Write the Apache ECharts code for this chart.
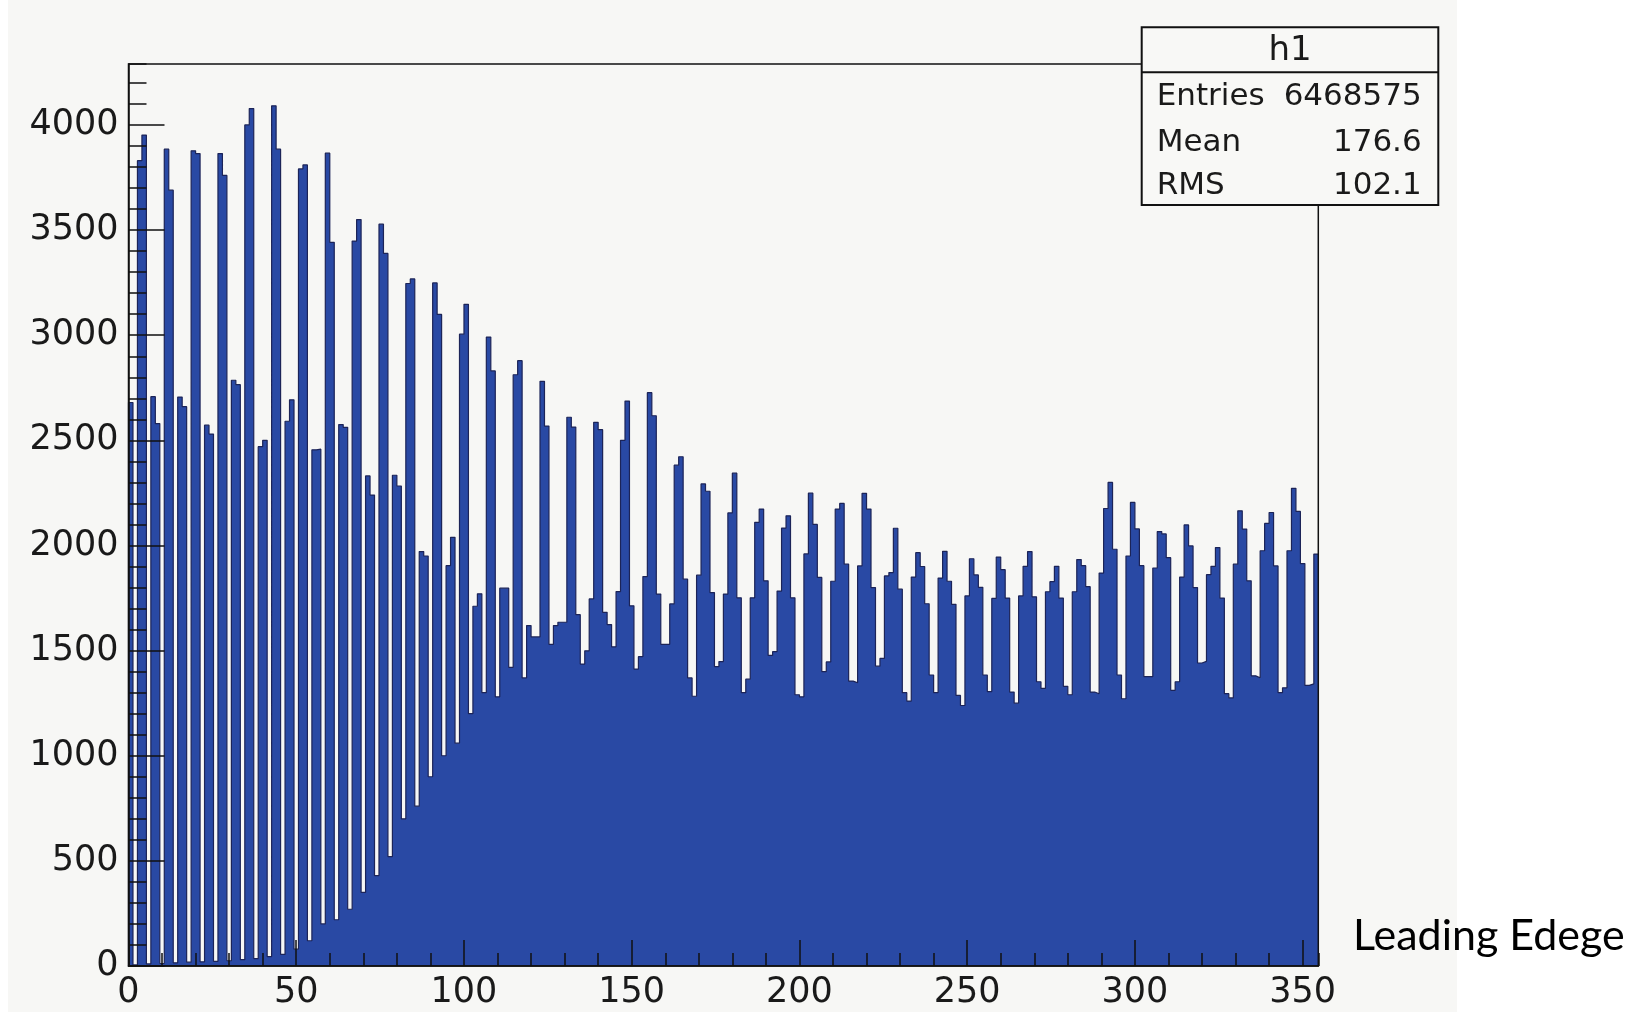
<!DOCTYPE html>
<html><head><meta charset="utf-8">
<script src="https://cdn.jsdelivr.net/npm/echarts@6/dist/echarts.min.js"></script>
<style>html,body{margin:0;padding:0;background:#fff;} #c{width:1647px;height:1015px;}</style>
</head><body><div id="c"></div>
<script>
// Histogram "h1": bin width 4/3, 266 bins starting at 0
const binWidth = 4 / 3;
const countsA = [2680, 5,
  3830, 3952, 10, 2708, 2580, 12,
  3885, 3690, 15, 2706, 2660, 18,
  3877, 3864, 20, 2572, 2530, 22,
  3864, 3760, 25, 2786, 2765, 30,
  4000, 4078, 35, 2470, 2500, 45,
  4091, 3885, 55, 2591, 2693, 80,
  3791, 3810, 120, 2455, 2458, 200,
  3866, 3442, 220, 2575, 2562, 270,
  3448, 3550, 350, 2331, 2240, 430,
  3528, 3389, 520, 2334, 2283, 700,
  3246, 3268, 760, 1971, 1950, 900,
  3249, 3099, 1000, 1904, 2039, 1060,
  3005, 3147, 1200, 1711, 1770, 1300,
  2991, 2830, 1280, 1797, 1797, 1420,
  2812, 2879, 1370, 1619, 1565, 1565];
const countsB = [
  2781, 2568, 1530, 1619, 1635, 1635,
  2610, 2563, 1671, 1436, 1499, 1746,
  2586, 2551, 1682, 1624, 1518, 1781,
  2500, 2687, 1713, 1412, 1471, 1852,
  2727, 2617, 1769, 1530, 1530, 1722,
  2382, 2422, 1840, 1370, 1283, 1859,
  2293, 2258, 1776, 1424, 1448, 1769,
  2155, 2344, 1751, 1300, 1364, 1751,
  2110, 2173, 1832, 1477, 1495, 1783,
  2083, 2141, 1751, 1290, 1280, 1960,
  2249, 2100, 1848, 1400, 1446, 1830,
  2173, 2200, 1911, 1355, 1347, 1903,
  2248, 2173, 1800, 1426, 1463, 1855,
  1871, 2082, 1792, 1300, 1260, 1850,
  1966, 1900, 1723, 1384, 1300, 1845];
const countsC = [
  1972, 1830, 1720, 1287, 1239, 1760,
  1937, 1860, 1801, 1384, 1305, 1748,
  1945, 1885, 1750, 1303, 1250, 1760,
  1901, 1971, 1756, 1352, 1320, 1780,
  1828, 1901, 1750, 1330, 1290, 1780,
  1933, 1904, 1804, 1303, 1295, 1869,
  2176, 2300, 1982, 1384, 1271, 1950,
  2205, 2079, 1904, 1376, 1376, 1893,
  2066, 2055, 1942, 1311, 1352, 1850,
  2098, 1998, 1800, 1441, 1449, 1861,
  1901, 1990, 1750, 1295, 1275, 1911,
  2165, 2078, 1832, 1380, 1371, 1975,
  2105, 2157, 1903, 1300, 1323, 1975,
  2272, 2162, 1914, 1335, 1342, 1959];
const statsTitle = 'h1';
const statsNames = ['Entries', 'Mean', 'RMS'];
const statsValues = ['6468575', '176.6', '102.1'];
const xTitle = 'Leading Edege';
const yMax = 4290;

const counts = countsA.concat(countsB, countsC);
const nBins = counts.length;
const xMax = nBins * binWidth;
const pts = [[0, 0]];
counts.forEach((v, i) => pts.push([i * binWidth, v]));
pts.push([xMax, counts[nBins - 1]]);

const axisFont = {fontFamily: 'DejaVu Sans', fontSize: 35, color: '#1a1a1a', formatter: v => String(v)};
const tickStyle = {color: '#111', width: 1.5};

const statsEls = [
  {type: 'rect', shape: {x: 1141.7, y: 27.3, width: 296.6, height: 177.7},
   style: {fill: '#f8f8f6', stroke: '#111', lineWidth: 2}, z: 100},
  {type: 'line', shape: {x1: 1141.7, y1: 72.3, x2: 1438.3, y2: 72.3},
   style: {stroke: '#111', lineWidth: 2}, z: 101},
  {type: 'text', x: 1290, y: 51, z: 101,
   style: {text: statsTitle, fontFamily: 'DejaVu Sans', fontSize: 34, fill: '#1a1a1a', align: 'center', verticalAlign: 'middle'}}
];
const rowY = [96.7, 142.7, 185.7];
statsNames.forEach((n, i) => {
  statsEls.push({type: 'text', x: 1156.7, y: rowY[i], z: 101,
    style: {text: n, fontFamily: 'DejaVu Sans', fontSize: 31, fill: '#1a1a1a', align: 'left', verticalAlign: 'middle'}});
  statsEls.push({type: 'text', x: 1421.7, y: rowY[i], z: 101,
    style: {text: statsValues[i], fontFamily: 'DejaVu Sans', fontSize: 31, fill: '#1a1a1a', align: 'right', verticalAlign: 'middle'}});
});

const chart = echarts.init(document.getElementById('c'), null, {renderer: 'canvas'});
chart.setOption({
  backgroundColor: '#ffffff',
  animation: false,
  grid: {left: 128.5, top: 64, width: 1189.8, height: 902, show: true,
         borderColor: '#111', borderWidth: 1.5, backgroundColor: 'transparent', z: 5},
  xAxis: [
    {type: 'value', min: 0, max: xMax, interval: 50, z: 6,
     axisLine: {lineStyle: tickStyle}, splitLine: {show: false},
     axisTick: {inside: true, length: 26, lineStyle: tickStyle},
     axisLabel: Object.assign({margin: 9, showMaxLabel: false}, axisFont)},
    {type: 'value', min: 0, max: xMax, interval: 10, position: 'bottom', z: 6,
     axisLine: {show: false}, splitLine: {show: false},
     axisTick: {inside: true, length: 13, lineStyle: tickStyle},
     axisLabel: {show: false}}
  ],
  yAxis: [
    {type: 'value', min: 0, max: yMax, interval: 500, z: 6,
     axisLine: {show: true, lineStyle: tickStyle}, splitLine: {show: false},
     axisTick: {show: true, inside: true, length: 36, lineStyle: tickStyle},
     axisLabel: Object.assign({margin: 10, showMaxLabel: false}, axisFont)},
    {type: 'value', min: 0, max: yMax, interval: 100, position: 'left', z: 6,
     axisLine: {show: false}, splitLine: {show: false},
     axisTick: {show: true, inside: true, length: 18, lineStyle: tickStyle},
     axisLabel: {show: false}}
  ],
  series: [{
    type: 'line', xAxisIndex: 0, yAxisIndex: 0, data: pts, step: 'end',
    symbol: 'none', z: 2,
    lineStyle: {color: '#1c2458', width: 1.2},
    areaStyle: {color: '#2949a4', opacity: 1}
  }],
  graphic: {elements: [
    {type: 'rect', shape: {x: 8, y: 0, width: 1449, height: 1012},
     style: {fill: '#f7f7f5'}, z: -10, silent: true},
    ...statsEls,
    {type: 'text', x: 1353, y: 936, z: 101,
     style: {text: xTitle, fontFamily: 'Lato', fontSize: 43, fill: '#000', align: 'left', verticalAlign: 'middle'}}
  ]}
});
</script></body></html>
